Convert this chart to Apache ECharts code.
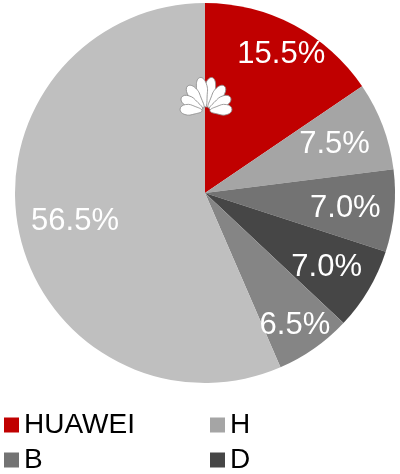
<!DOCTYPE html>
<html>
<head>
<meta charset="utf-8">
<script src="https://cdn.jsdelivr.net/npm/echarts@6/dist/echarts.min.js"></script>
<style>
html,body{margin:0;padding:0;background:#fff;}
#chart{width:400px;height:474px;}
</style>
</head>
<body>
<div id="chart"></div>
<script>
// Data
var categories = ['HUAWEI', 'H', 'B', 'D', 'C', 'Others'];
var shares = [15.5, 7.5, 7.0, 7.0, 6.5, 56.5];
var legendRow1 = ['HUAWEI', 'H'];
var legendRow2 = ['B', 'D'];

// Styles
var colors = ['#c00000', '#a5a5a5', '#737373', '#464646', '#858585', '#bfbfbf'];
var labelShift = [[8, -10], [-7, 3], [-5, 2], [-4, 0], [6, 13], [13, -1]];

var pieData = categories.map(function (c, i) {
  return { name: c, value: shares[i], itemStyle: { color: colors[i] } };
});
var labelData = categories.map(function (c, i) {
  return { name: c, value: shares[i] };
});

// Huawei-style flower logo made of petals
var petals = [
  { a: 10, L: 34 }, { a: 36, L: 31 }, { a: 61, L: 28 }, { a: 86, L: 26 }
];
function petalPoints(L, w) {
  return [[0, -4], [w * 0.7, -L * 0.4], [w, -L * 0.8], [0, -L], [-w, -L * 0.8], [-w * 0.7, -L * 0.4]];
}
var logoChildren = [];
petals.forEach(function (p) {
  [1, -1].forEach(function (s) {
    logoChildren.push({
      type: 'polygon',
      x: 0, y: 0,
      z: 100,
      rotation: -s * p.a * Math.PI / 180,
      shape: { points: petalPoints(p.L, 5), smooth: 0.5 },
      style: { fill: '#ffffff', stroke: '#8c8c8c', lineWidth: 0.8 }
    });
  });
});

var legendText = { fontFamily: 'Liberation Sans, Arial, sans-serif', fontSize: 28, color: '#000', width: 165, lineHeight: 30 };

var chart = echarts.init(document.getElementById('chart'), null, { renderer: 'canvas' });
chart.setOption({
  animation: false,
  legend: [{
    data: legendRow1,
    orient: 'horizontal',
    left: 4, top: 410, padding: 0,
    itemWidth: 15, itemHeight: 15, itemGap: 21,
    icon: 'rect',
    selectedMode: false,
    textStyle: legendText
  }, {
    data: legendRow2,
    orient: 'horizontal',
    left: 4, top: 445, padding: 0,
    itemWidth: 15, itemHeight: 15, itemGap: 21,
    icon: 'rect',
    selectedMode: false,
    textStyle: legendText
  }],
  series: [{
    type: 'pie',
    center: [205, 193],
    radius: [0, 190],
    startAngle: 90,
    clockwise: true,
    silent: true,
    label: { show: false },
    labelLine: { show: false },
    itemStyle: { borderWidth: 0 },
    emphasis: { disabled: true },
    data: pieData
  }, {
    type: 'pie',
    center: [205, 193],
    radius: [96, 190],
    startAngle: 90,
    clockwise: true,
    silent: true,
    itemStyle: { color: 'rgba(0,0,0,0)', borderWidth: 0 },
    emphasis: { disabled: true },
    labelLine: { show: false },
    label: {
      show: true,
      position: 'inside',
      formatter: function (p) { return p.value.toFixed(1) + '%'; },
      color: '#ffffff',
      fontFamily: 'Liberation Sans, Arial, sans-serif',
      fontSize: 31
    },
    labelLayout: function (params) {
      var s = labelShift[params.dataIndex];
      return { dx: s[0], dy: s[1] };
    },
    data: labelData
  }],
  graphic: [{
    type: 'group',
    x: 206, y: 111,
    z: 100,
    children: logoChildren
  }]
});
</script>
</body>
</html>
